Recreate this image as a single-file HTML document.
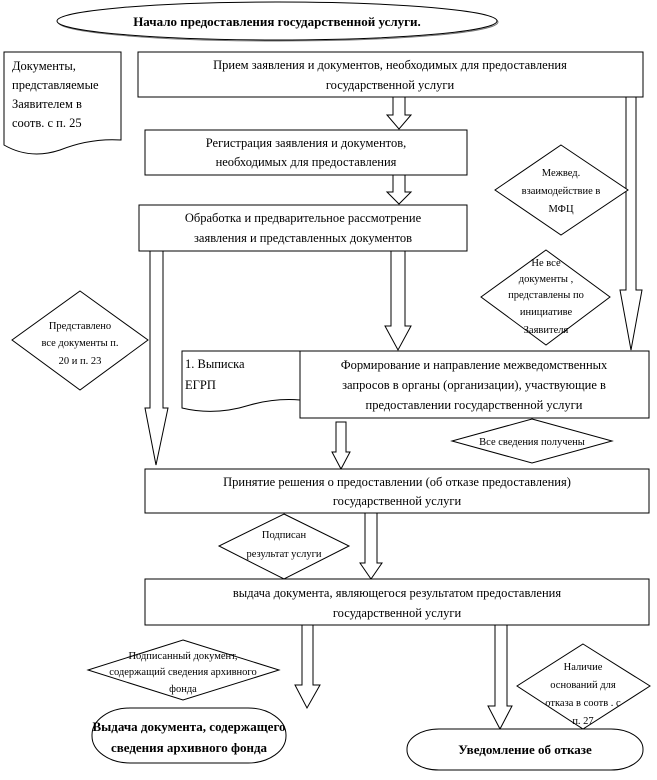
<!DOCTYPE html>
<html><head><meta charset="utf-8"><style>
html,body{margin:0;padding:0;background:#fff;}
svg{display:block;}
text{font-family:"Liberation Serif",serif;font-size:12.5px;fill:#000;}
.b{font-weight:bold;font-size:13px;}
.s{font-size:10.5px;}
</style></head><body>
<svg width="657" height="780" viewBox="0 0 657 780" xmlns="http://www.w3.org/2000/svg">
<g fill="#fff" stroke="#000" stroke-width="1">
<ellipse cx="278" cy="22" rx="220" ry="19" fill="none" stroke="#777" stroke-width="1"/>
<ellipse cx="277" cy="21" rx="220" ry="19"/>
<path d="M4,52 H121 V140 Q90,138 60,150 Q30,160 4,145 Z"/>
<rect x="138" y="52" width="505" height="45"/>
<rect x="145" y="130" width="322" height="45"/>
<rect x="139" y="205" width="328" height="46"/>
<path d="M393,97 H405 V115 H411 L399,129 L387,115 H393 Z"/>
<path d="M393,175 H405 V192 H411 L399,204 L387,192 H393 Z"/>
<path d="M626,97 H636 V290 H642 L631,350 L620,290 H626 Z"/>
<path d="M150,251 H163 V408 H168 L156,465 L145,408 H150 Z"/>
<path d="M391,251 H405 V326 H411 L398,350 L385,326 H391 Z"/>
<path d="M336,422 H346 V452 H350 L341,469 L332,452 H336 Z"/>
<path d="M365,513 H377 V563 H382 L371,579 L360,563 H365 Z"/>
<path d="M302,625 H313 V685 H320 L307,708 L295,685 H302 Z"/>
<path d="M495,625 H507 V706 H512 L500,729 L488,706 H495 Z"/>
<path d="M561,145 L628,190 L561,235 L495,190 Z"/>
<path d="M546,250 L610,297 L546,345 L481,297 Z"/>
<path d="M80,291 L148,340 L80,390 L12,340 Z"/>
<path d="M182,351 H300 V400 Q275,398 250,405 Q215,416 182,408 Z"/>
<rect x="300" y="351" width="349" height="67"/>
<path d="M532,419 L612,441 L532,463 L452,441 Z"/>
<rect x="145" y="469" width="504" height="44"/>
<path d="M284,514 L349,546 L284,579 L219,546 Z"/>
<rect x="145" y="579" width="504" height="46"/>
<path d="M183,640 L279,670 L183,700 L88,670 Z"/>
<path d="M583,644 L650,686 L583,729 L517,686 Z"/>
<rect x="92" y="708" width="194" height="55" rx="38" ry="27"/>
<rect x="407" y="729" width="236" height="41" rx="32" ry="20"/>
</g>
<text class="b" x="277" y="26" text-anchor="middle">Начало предоставления государственной  услуги.</text>
<text x="12" y="70">Документы,</text>
<text x="12" y="89">представляемые</text>
<text x="12" y="108">Заявителем в</text>
<text x="12" y="127">соотв. с п. 25</text>
<text x="390" y="69" text-anchor="middle">Прием заявления и документов, необходимых для предоставления</text>
<text x="390" y="89" text-anchor="middle">государственной услуги</text>
<text x="306" y="147" text-anchor="middle">Регистрация заявления и документов,</text>
<text x="306" y="166" text-anchor="middle">необходимых для предоставления</text>
<text x="303" y="222" text-anchor="middle">Обработка и предварительное рассмотрение</text>
<text x="303" y="242" text-anchor="middle">заявления и представленных документов</text>
<text class="s" x="561" y="176" text-anchor="middle">Межвед.</text>
<text class="s" x="561" y="194" text-anchor="middle">взаимодействие в</text>
<text class="s" x="561" y="212" text-anchor="middle">МФЦ</text>
<text class="s" x="546" y="266" text-anchor="middle">Не все</text>
<text class="s" x="546" y="282" text-anchor="middle">документы ,</text>
<text class="s" x="546" y="298" text-anchor="middle">представлены по</text>
<text class="s" x="546" y="315" text-anchor="middle">инициативе</text>
<text class="s" x="546" y="333" text-anchor="middle">Заявителя</text>
<text class="s" x="80" y="329" text-anchor="middle">Представлено</text>
<text class="s" x="80" y="346" text-anchor="middle">все документы п.</text>
<text class="s" x="80" y="364" text-anchor="middle">20 и п. 23</text>
<text x="185" y="368">1. Выписка</text>
<text x="185" y="389">ЕГРП</text>
<text x="474" y="369" text-anchor="middle">Формирование и направление межведомственных</text>
<text x="474" y="389" text-anchor="middle">запросов в органы (организации), участвующие в</text>
<text x="474" y="409" text-anchor="middle">предоставлении государственной услуги</text>
<text class="s" x="532" y="445" text-anchor="middle">Все сведения получены</text>
<text x="397" y="486" text-anchor="middle">Принятие решения о предоставлении (об отказе предоставления)</text>
<text x="397" y="505" text-anchor="middle">государственной услуги</text>
<text class="s" x="284" y="538" text-anchor="middle">Подписан</text>
<text class="s" x="284" y="557" text-anchor="middle">результат услуги</text>
<text x="397" y="597" text-anchor="middle">выдача документа, являющегося результатом предоставления</text>
<text x="397" y="617" text-anchor="middle">государственной услуги</text>
<text class="s" x="183" y="659" text-anchor="middle">Подписанный документ,</text>
<text class="s" x="183" y="675" text-anchor="middle">содержащий сведения архивного</text>
<text class="s" x="183" y="692" text-anchor="middle">фонда</text>
<text class="s" x="583" y="670" text-anchor="middle">Наличие</text>
<text class="s" x="583" y="688" text-anchor="middle">оснований для</text>
<text class="s" x="583" y="706" text-anchor="middle">отказа в соотв . с</text>
<text class="s" x="583" y="724" text-anchor="middle">п. 27</text>
<text class="b" x="189" y="731" text-anchor="middle">Выдача документа, содержащего</text>
<text class="b" x="189" y="752" text-anchor="middle">сведения архивного фонда</text>
<text class="b" x="525" y="754" text-anchor="middle">Уведомление об отказе</text>
</svg>
</body></html>
